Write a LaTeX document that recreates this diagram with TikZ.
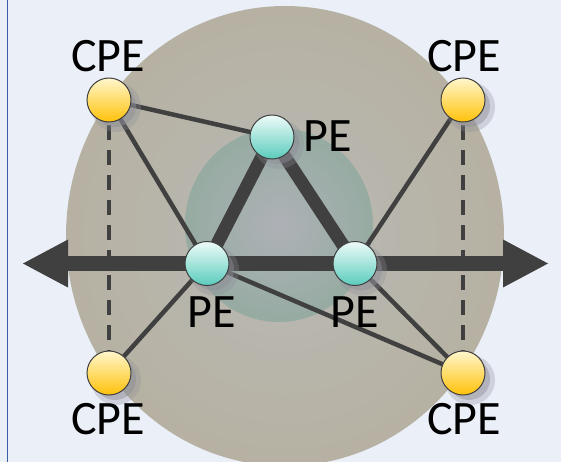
\documentclass[tikz,border=0pt]{standalone}
\usepackage{fontspec}
\setmainfont{Carlito}
\usetikzlibrary{calc}
\definecolor{bgc}{HTML}{EAEFF8}
\definecolor{borderc}{HTML}{3B5BA5}
\definecolor{edgec}{HTML}{404040}
\definecolor{cpetop}{HTML}{FFF6CC}
\definecolor{cpebot}{HTML}{FFC20A}
\definecolor{petop}{HTML}{EEFBF8}
\definecolor{pebot}{HTML}{5ACCBD}
\definecolor{ellin}{HTML}{B9B9B5}
\definecolor{ellout}{HTML}{B6B1A2}
\definecolor{corein}{HTML}{AEB1B6}
\definecolor{coreout}{HTML}{96ABA2}
\definecolor{shadowc}{HTML}{8E8E98}
\begin{document}
\begin{tikzpicture}[x=1pt,y=-1pt,
  lbl/.style={font=\fontsize{48}{48}\selectfont, inner sep=0pt, anchor=base, text=black},
  cpe/.style={circle, minimum size=44pt, inner sep=0pt, draw=edgec, line width=1pt, top color=cpetop, bottom color=cpebot},
  pe/.style={circle, minimum size=44pt, inner sep=0pt, draw=edgec, line width=1pt, top color=petop, bottom color=pebot},
  thinedge/.style={draw=edgec, line width=4.5pt},
  thickedge/.style={draw=edgec, line width=13pt},
  dashedge/.style={draw=edgec, line width=4.5pt, dash pattern=on 15pt off 10pt},
  shadowo/.style={fill=shadowc, opacity=0.3},
  shadowi/.style={fill=shadowc, opacity=0.45},
  headfill/.style={fill=edgec}
]
\useasboundingbox (0,0) rectangle (561,462);
\clip (0,0) rectangle (561,462);
\fill[bgc] (0,0) rectangle (561,462);
\draw[borderc, line width=1.6pt] (7.5,0) -- (7.5,462);
% regions
\shade[inner color=ellin, outer color=ellout] (285,236) ellipse (219pt and 230pt);
\shade[inner color=corein, outer color=coreout] (279,225) ellipse (94pt and 97pt);
% node centres
\coordinate (tl) at (109,100);
\coordinate (tr) at (463,100);
\coordinate (bl) at (109,373);
\coordinate (br) at (463,373);
\coordinate (pt) at (272,137);
\coordinate (pl) at (207,263.5);
\coordinate (pr) at (355,263.5);
\coordinate (al) at (23,263.5);
\coordinate (ab) at (68,263.5);
\coordinate (bb) at (503,263.5);
\coordinate (ar) at (548,263.5);
% arrow
\draw[edgec, line width=15pt] (ab) -- (bb);
\fill[headfill] (al) -- ($(ab)+(0,-24)$) -- ($(ab)+(0,24)$) -- cycle;
\fill[headfill] (ar) -- ($(bb)+(0,-24)$) -- ($(bb)+(0,24)$) -- cycle;
% links
\draw[dashedge] (tl) -- (bl);
\draw[dashedge] (tr) -- (br);
\draw[thinedge] (tl) -- (pt);
\draw[thinedge] (tl) -- (pl);
\draw[thinedge] (bl) -- (pl);
\draw[thinedge] (tr) -- (pr);
\draw[thinedge] (br) -- (pr);
\draw[thinedge] (pl) -- (br);
\draw[thickedge] (pl) -- (pt);
\draw[thickedge] (pt) -- (pr);
% shadows
\foreach \c in {tl,tr,bl,br,pt,pl,pr}{
  \fill[shadowo] ($(\c)+(7,7)$) circle (25pt);
  \fill[shadowi] ($(\c)+(6,6)$) circle (21pt);
}
% nodes
\node[cpe] (ntl) at (tl) {};
\node[cpe] (ntr) at (tr) {};
\node[cpe] (nbl) at (bl) {};
\node[cpe] (nbr) at (br) {};
\node[pe] (npt) at (pt) {};
\node[pe] (npl) at (pl) {};
\node[pe] (npr) at (pr) {};
% labels
\node[lbl] (ltl) at (108,72) {CPE};
\node[lbl] (ltr) at (464,72) {CPE};
\node[lbl] (lbl1) at (108,434) {CPE};
\node[lbl] (lbr) at (464,434) {CPE};
\node[lbl] (lpt) at (328,152) {PE};
\node[lbl] (lpl) at (212,327) {PE};
\node[lbl] (lpr) at (355,327) {PE};
\end{tikzpicture}
\end{document}
